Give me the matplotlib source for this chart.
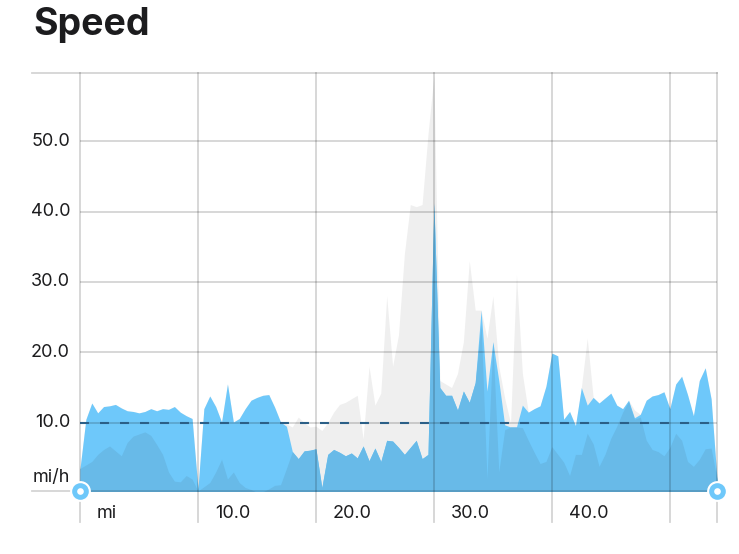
import numpy as np
import matplotlib.pyplot as plt

plt.rcParams['font.family'] = ['Inter', 'DejaVu Sans']

# samples every 0.5 mi, 0 .. 54 mi
step_mi = 0.5

speed = [3.5, 10.5, 12.8, 11.4, 12.3, 12.4, 12.6, 12.1, 11.7, 11.6,
         11.4, 11.6, 12.0, 11.7, 12.0, 11.9, 12.3, 11.5, 11.0, 10.6,
         0.6, 12.0, 13.8, 12.3, 10.1, 15.5, 10.1, 10.6, 12.0, 13.2,
         13.6, 13.9, 14.0, 12.2, 10.1, 9.5, 5.9, 4.9, 6.0, 6.1,
         6.3, 0.8, 5.5, 6.2, 5.8, 5.3, 5.7, 5.0, 6.7, 4.6,
         6.4, 4.5, 7.5, 7.4, 6.5, 5.5, 6.5, 7.5, 4.9, 5.5,
         41.2, 15.0, 13.9, 13.9, 11.8, 14.5, 12.9, 15.7, 26.0, 14.5,
         21.5, 16.0, 9.7, 9.4, 9.4, 12.5, 11.5, 12.0, 12.4, 15.2,
         19.9, 19.5, 10.5, 11.6, 9.6, 15.0, 12.5, 13.6, 12.8, 13.5,
         14.2, 12.5, 12.0, 13.2, 10.7, 11.2, 13.2, 13.8, 14.0, 14.4,
         12.0, 15.5, 16.6, 14.0, 11.0, 16.0, 17.8, 13.4, 2.0]

lower = [3.5, 4.0, 4.5, 5.5, 6.2, 6.7, 6.0, 5.3, 7.2, 8.1,
         8.4, 8.7, 8.2, 6.9, 5.5, 3.0, 1.7, 1.6, 2.5, 2.0,
         0.3, 0.9, 1.5, 3.0, 4.8, 2.0, 3.0, 1.5, 0.8, 0.5,
         0.1, 0.2, 0.6, 1.1, 1.2, 3.5, 5.9, 4.9, 6.0, 6.1,
         6.3, 0.8, 5.5, 6.2, 5.8, 5.3, 5.7, 5.0, 6.7, 4.6,
         6.4, 4.5, 7.5, 7.4, 6.5, 5.5, 6.5, 7.5, 4.9, 5.5,
         41.2, 15.0, 13.9, 13.9, 11.8, 14.5, 12.9, 15.7, 24.0, 2.0,
         21.5, 3.0, 9.0, 9.4, 9.4, 9.3, 7.5, 5.8, 4.2, 4.5,
         6.6, 5.5, 4.4, 2.5, 5.5, 5.5, 8.5, 7.0, 3.8, 5.5,
         7.8, 9.5, 11.5, 13.0, 10.5, 10.8, 7.5, 6.2, 5.9, 5.3,
         6.5, 8.5, 7.5, 4.5, 3.8, 4.8, 6.3, 6.4, 2.0]

max_speed = [3.5, 10.5, 12.8, 11.4, 12.3, 12.4, 12.6, 12.1, 11.7, 11.6,
             11.4, 11.6, 12.0, 11.7, 12.0, 11.9, 12.3, 11.5, 11.0, 10.6,
             0.6, 12.0, 13.8, 12.3, 10.1, 15.5, 10.1, 10.6, 12.0, 13.2,
             13.6, 13.9, 14.0, 12.2, 10.1, 9.8, 9.4, 10.8, 10.0, 9.4,
             9.5, 8.9, 10.0, 11.5, 12.6, 12.9, 13.4, 13.9, 7.7, 18.0,
             12.5, 14.2, 28.0, 18.0, 22.5, 34.0, 41.0, 40.7, 41.0, 51.0,
             59.3, 16.0, 15.5, 15.0, 17.0, 21.5, 33.0, 26.0, 26.0, 22.0,
             28.0, 18.0, 13.5, 9.9, 31.0, 17.0, 11.5, 12.0, 12.4, 15.2,
             19.9, 19.5, 10.5, 11.6, 9.6, 15.0, 22.0, 13.6, 12.8, 13.5,
             14.2, 12.5, 12.0, 13.2, 11.8, 11.2, 13.2, 13.8, 14.0, 14.4,
             12.0, 15.5, 16.6, 14.0, 11.0, 16.0, 17.8, 13.4, 2.0]

y_ticks = [10, 20, 30, 40, 50]
y_labels = ['10.0', '20.0', '30.0', '40.0', '50.0']
x_ticks = [0, 10, 20, 30, 40]
x_labels = ['mi', '10.0', '20.0', '30.0', '40.0']
avg_speed = 10.0

dist = np.arange(len(speed)) * step_mi
x_max = dist[-1]
y_min, y_max = 0.3, 59.7

text_color = '#1c1c1e'
grid_color = (0, 0, 0, 0.17)

fig = plt.figure(figsize=(7.39, 5.54), dpi=100)
ax = fig.add_axes([80 / 739, 63 / 554, 637 / 739, 418 / 554])

ax.fill_between(dist, max_speed, color='#efefef', lw=0, zorder=1)
ax.fill_between(dist, speed, color='#6ec8fa', lw=0, zorder=2)
ax.fill_between(dist, lower, color='#68bae8', lw=0, zorder=3)

ax.set_xlim(0, x_max)
ax.set_ylim(y_min, y_max)
ax.axis('off')

# horizontal grid
for v in y_ticks:
    ax.axhline(v, color=grid_color, lw=1.3, zorder=5)
for ya in [0, 1]:
    ax.plot([-48 / 637, 1], [ya, ya], transform=ax.transAxes, color=grid_color,
            lw=1.3, clip_on=False, zorder=5)

# vertical grid
for m in [0, 10, 20, 30, 40, 50, x_max]:
    ax.plot([m, m], [-31 / 418, 1], transform=ax.get_xaxis_transform(),
            color=grid_color, lw=1.3, clip_on=False, zorder=5)

# average line
ax.axhline(avg_speed, color='#2b5f87', lw=1.5, dashes=(4.3, 5.3), zorder=6)

# labels
for v, lab in zip(y_ticks, y_labels):
    ax.text(-10 / 637, v, lab, transform=ax.get_yaxis_transform(), ha='right',
            va='center', fontsize=13, color=text_color)
ax.text(-10 / 637, 2.2, 'mi/h', transform=ax.get_yaxis_transform(), ha='right',
        va='center', fontsize=13, color=text_color)
for m, lab in zip(x_ticks, x_labels):
    ax.text(m + 17 / 11.8, -23 / 418, lab, transform=ax.get_xaxis_transform(),
            ha='left', va='center', fontsize=13, color=text_color)

fig.text(33 / 739, 1 - 35 / 554, 'Speed', fontsize=27, fontweight='bold',
         color=text_color, va='baseline', ha='left')

# end handles
ends = [0, x_max]
ax.plot(ends, [y_min, y_min], 'o', ms=15, mfc='white', mec='none', clip_on=False, zorder=10)
ax.plot(ends, [y_min, y_min], 'o', ms=12, mfc='#6ec8fa', mec='none', clip_on=False, zorder=11)
ax.plot(ends, [y_min, y_min], 'o', ms=4.8, mfc='white', mec='none', clip_on=False, zorder=12)

fig.savefig('out.png', dpi=100)
